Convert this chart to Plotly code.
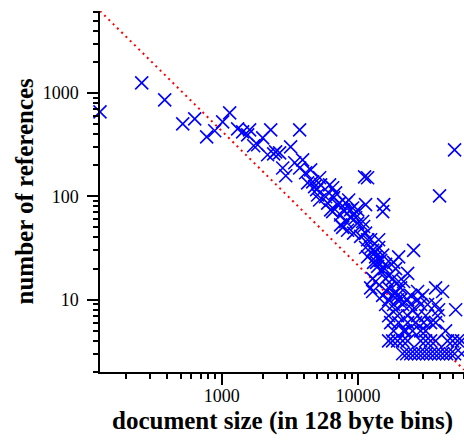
import plotly.graph_objects as go

# document size (128-byte bins) and number of references
doc_size = [128, 259, 382, 518, 634, 776, 889, 1017, 1145, 1310, 1425, 1604, 1552, 1718, 1837, 2000, 2290, 3735,
            2173, 2489, 2664, 2408, 3206, 2806, 2953, 3438, 3925, 3735, 4130, 4653, 5236, 5321, 6194, 4809, 4276,
            6521, 5058, 5794, 6634, 5236, 5994, 7345, 8128, 7855, 8831, 9954, 6310, 7096, 9141, 11190, 11770,
            11380, 15450, 15180, 39720, 51170, 7464, 8831, 9954, 11010, 7464, 8395, 9292, 10470, 6521, 8128, 9292,
            7727, 11380, 14190, 14190, 11380, 12820, 11770, 13490, 15180, 13950, 15960, 18270, 18900, 12390, 13490,
            15960, 16790, 17970, 19540, 19890, 15180, 12390, 13490, 14680, 13030, 14680, 19890, 25620, 23160, 16790,
            17970, 21640, 12820, 20560, 27400, 24370, 29840, 37140, 41780, 18900,
            16790, 19540, 23160, 27400, 15960, 18270, 21290, 24370, 32430, 37140, 52120, 39080,
            16790, 19540, 23160, 27400, 31400,
            17380, 19890, 23160, 26490, 30340, 34130,
            18270, 21640, 25180, 28840, 43950,
            16790, 17970, 19540, 21290, 23160, 28840, 31400, 34130, 37140, 45460, 49530, 53860, 57640,
            21290, 22770, 24370, 26060, 27880, 29840, 31930, 34130, 36540, 39080, 41780, 44740, 47840, 51170, 57640,
            11770, 4498, 4977, 6855, 8550, 9617, 10830, 12390, 13710, 15700, 12820, 16260, 20560, 25180, 28840,
            18900, 22390, 31400, 37140, 38460]
num_refs = [655, 1249, 856, 502, 561, 376, 430, 525, 641, 449, 420, 439, 393, 308, 315, 367, 439, 439,
            252, 269, 263, 257, 301, 188, 158, 211, 225, 188, 169, 138, 151, 129, 129, 124, 135,
            121, 103, 99, 97, 92, 86, 86, 86, 74, 74, 74, 74, 83, 77, 154, 151,
            83, 83, 71, 101, 281, 66, 62, 55, 51, 53, 47, 44, 41, 71, 57, 66,
            50, 44, 38, 32, 32, 30, 26, 26, 27, 21, 22, 23, 20, 13, 15,
            16, 13, 11, 11, 15, 11, 32, 29, 24, 23, 19, 26, 30, 18, 17,
            16, 15, 12, 13, 12, 11, 11, 13, 12, 12,
            10, 10, 10, 10, 9, 9, 9, 9, 9, 9, 8, 8,
            7, 7, 7, 7, 7,
            6, 6, 6, 6, 6, 6,
            5, 5, 5, 5, 5,
            4, 4, 4, 4, 4, 4, 4, 4, 4, 4, 4, 4, 4,
            3, 3, 3, 3, 3, 3, 3, 3, 3, 3, 3, 3, 3, 3, 3,
            38, 180, 116, 108, 92, 62, 57, 38, 23, 20, 16, 12, 10, 8, 9,
            8, 5, 5, 6, 7]

# reference power-law line (end points)
line_x = [128, 60000]
line_y = [6200, 2.1]

x_ticks = [1000, 10000]
y_ticks = [10, 100, 1000]

x_title = "document size (in 128 byte bins)"
y_title = "number of references"

fig = go.Figure()
fig.add_trace(go.Scatter(
    x=line_x, y=line_y, mode="lines",
    line=dict(color="red", width=2, dash="2px,4px"),
    showlegend=False, hoverinfo="skip"))
fig.add_trace(go.Scatter(
    x=doc_size, y=num_refs, mode="markers",
    marker=dict(symbol="x-thin", size=13, color="#0000ff",
                line=dict(color="#0000ff", width=1.6)),
    cliponaxis=False, showlegend=False))

axis_common = dict(
    type="log", showgrid=False, zeroline=False, automargin=False,
    showline=True, linecolor="black", linewidth=1.5,
    ticks="outside", ticklen=11, tickwidth=1.5, tickcolor="black",
    tickfont=dict(family="Liberation Serif", size=18, color="black"),
    minor=dict(ticks="outside", ticklen=5, tickwidth=1.5, tickcolor="black",
               dtick="D1", showgrid=False),
)

fig.update_layout(
    width=464, height=440,
    margin=dict(l=100, r=0, t=11, b=68),
    paper_bgcolor="white", plot_bgcolor="white",
    font=dict(family="Liberation Serif", color="black"),
    xaxis=dict(axis_common, range=[2.1072, 4.7782], ticklabelstandoff=-4,
               tickvals=x_ticks, ticktext=[str(v) for v in x_ticks]),
    yaxis=dict(axis_common, range=[0.301, 3.792], ticklabelstandoff=5,
               tickvals=y_ticks, ticktext=[str(v) for v in y_ticks]),
    annotations=[
        dict(text="<b>" + x_title + "</b>", xref="paper", yref="paper", x=0.5, y=0,
             xanchor="center", yanchor="middle", yshift=-49, showarrow=False,
             font=dict(family="Liberation Serif", size=25, color="black")),
        dict(text="<b>" + y_title + "</b>", xref="paper", yref="paper", x=0, y=0.5,
             xanchor="center", yanchor="middle", xshift=-76, textangle=-90, showarrow=False,
             font=dict(family="Liberation Serif", size=25, color="black")),
    ],
)

fig.write_html("out.html", config={"displayModeBar": False},
               post_script="document.body.style.margin='0';")
